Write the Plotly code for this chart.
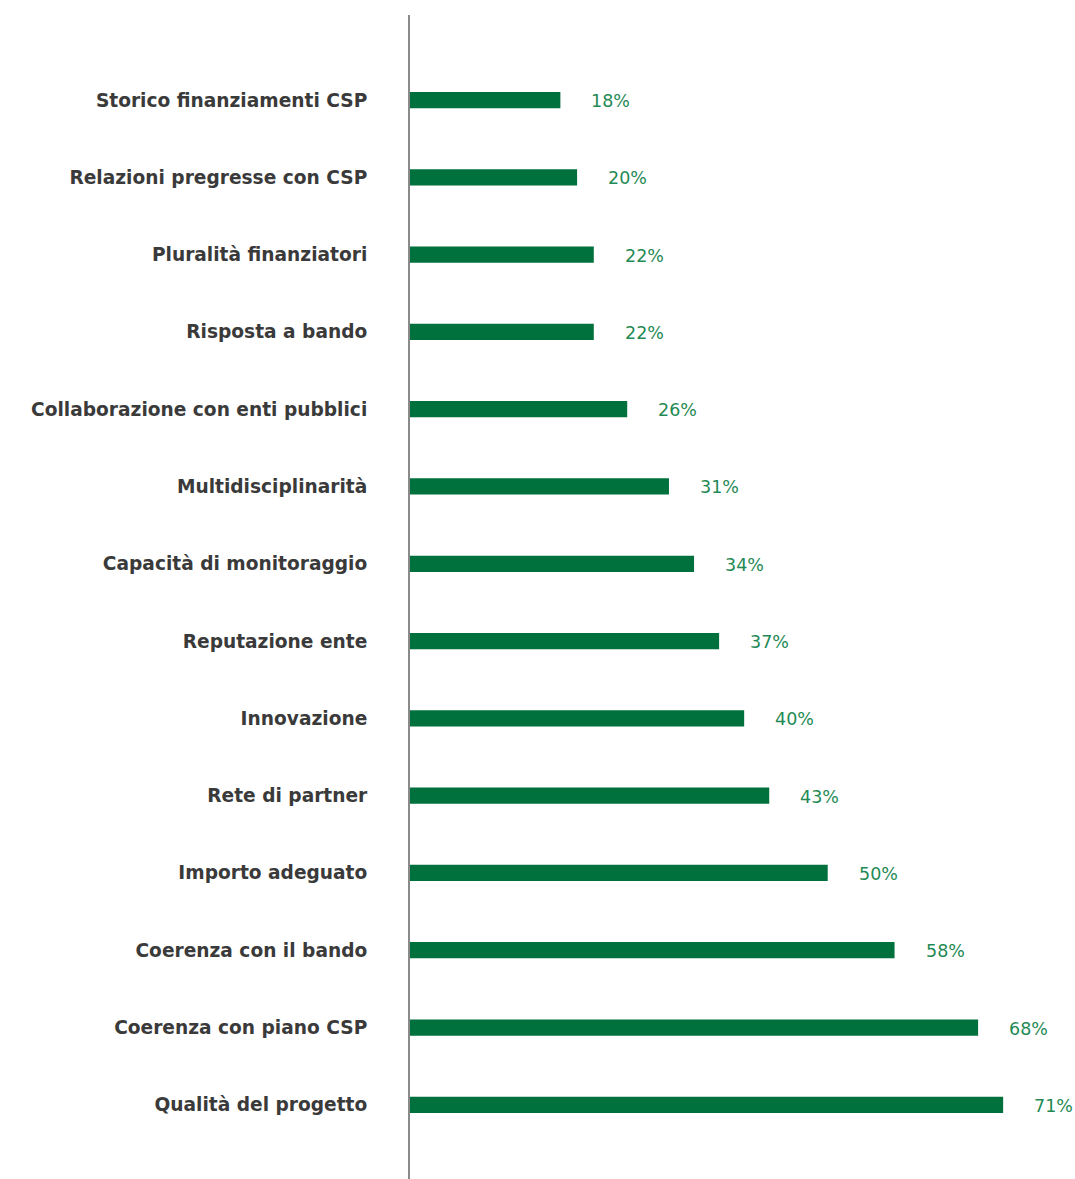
import plotly.graph_objects as go

categories = [
    "Storico finanziamenti CSP",
    "Relazioni pregresse con CSP",
    "Pluralità finanziatori",
    "Risposta a bando",
    "Collaborazione con enti pubblici",
    "Multidisciplinarità",
    "Capacità di monitoraggio",
    "Reputazione ente",
    "Innovazione",
    "Rete di partner",
    "Importo adeguato",
    "Coerenza con il bando",
    "Coerenza con piano CSP",
    "Qualità del progetto",
]
values = [18, 20, 22, 22, 26, 31, 34, 37, 40, 43, 50, 58, 68, 71]
value_labels = [f"{v}%" for v in values]

BAR = "#00703c"
LABEL = "#1f8a55"

fig = go.Figure()
fig.add_trace(go.Bar(
    x=values, y=categories, orientation="h",
    marker=dict(color=BAR, line=dict(width=0)),
    width=0.21, hoverinfo="skip",
))
for c, v, t in zip(categories, values, value_labels):
    fig.add_annotation(x=v, y=c, text=t, showarrow=False, xanchor="left",
                       xshift=29, yshift=-1,
                       font=dict(family="'DejaVu Sans', sans-serif", size=17.5, color=LABEL))

fig.update_layout(
    width=1075, height=1179,
    margin=dict(l=410, r=0, t=15, b=0),
    plot_bgcolor="white", paper_bgcolor="white",
    showlegend=False,
    xaxis=dict(range=[0, 79.6], visible=False, showgrid=False, zeroline=False),
    yaxis=dict(
        type="category", categoryorder="array", categoryarray=categories,
        range=[13.96, -1.1],
        showline=True, linecolor="#8a8a8a", linewidth=2,
        showgrid=False, zeroline=False, ticks="",
        ticklabelstandoff=37,
        tickfont=dict(family="'DejaVu Sans', sans-serif", size=18.6, color="#3a3a3a", weight="bold"),
    ),
)
fig.write_html("out.html", config={"displayModeBar": False},
               post_script="document.body.style.margin='0';document.body.style.overflow='hidden';")
